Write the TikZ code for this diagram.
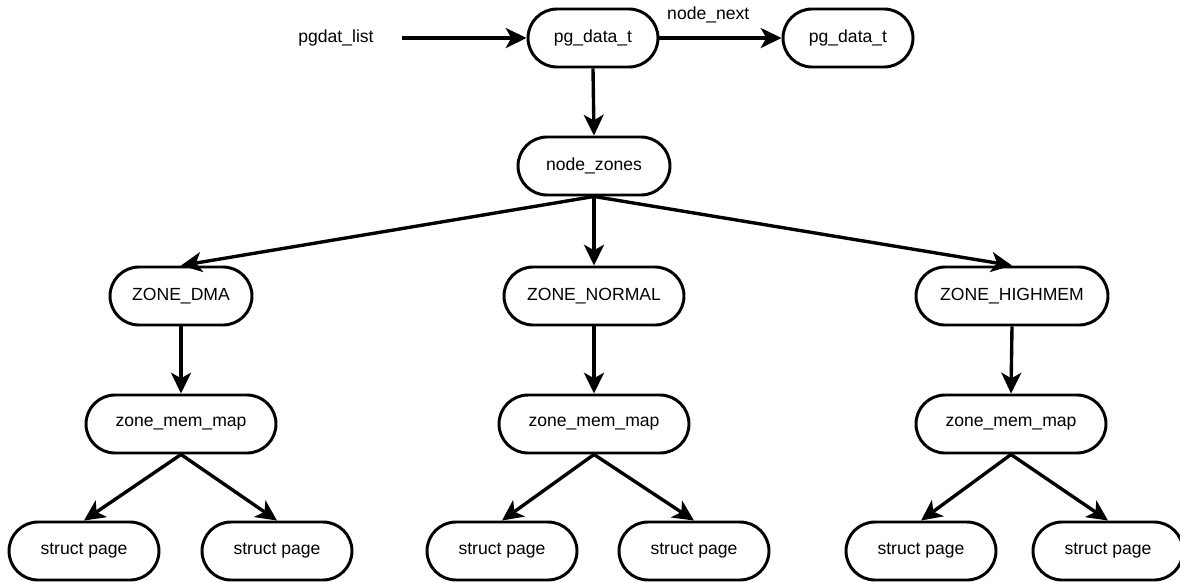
\documentclass[tikz,border=0pt]{standalone}
\usepackage{fontspec}
\setmainfont{Liberation Sans}
\usetikzlibrary{arrows.meta}
\begin{document}
\begin{tikzpicture}[x=0.025cm, y=-0.025cm,
  font=\fontsize{12.5}{15}\selectfont,
  pill/.style={draw=black, line width=2.1pt, fill=white, rectangle,
    rounded corners=0.725cm, minimum height=58*0.025cm, inner sep=0pt},
  link/.style={line width=2.4pt, -{Stealth[length=0.52cm, width=0.5cm, inset=0.14cm]}}]
  \useasboundingbox (0,0) rectangle (1180,581);

  % top row
  \node (lst) at (336,38) {pgdat\_list};
  \coordinate (lstend) at (402,38);
  \node[pill, minimum width=130*0.025cm] (pg1) at (593,38) {pg\_data\_t};
  \node[pill, minimum width=130*0.025cm] (pg2) at (848,38) {pg\_data\_t};
  \node[pill, minimum width=152*0.025cm] (zones) at (594,166) {node\_zones};

  % zones
  \node[pill, minimum width=142*0.025cm] (dma) at (181,296) {ZONE\_DMA};
  \node[pill, minimum width=180*0.025cm] (normal) at (594,296) {ZONE\_NORMAL};
  \node[pill, minimum width=192*0.025cm] (high) at (1012,296) {ZONE\_HIGHMEM};

  % memory maps
  \node[pill, minimum width=190*0.025cm] (mapa) at (181,424) {zone\_mem\_map};
  \node[pill, minimum width=190*0.025cm] (mapb) at (594,424) {zone\_mem\_map};
  \node[pill, minimum width=190*0.025cm] (mapc) at (1011,424) {zone\_mem\_map};

  % pages
  \node[pill, minimum width=150*0.025cm] (pa1) at (84,551) {struct page};
  \node[pill, minimum width=150*0.025cm] (pa2) at (277,551) {struct page};
  \node[pill, minimum width=150*0.025cm] (pb1) at (502,551) {struct page};
  \node[pill, minimum width=150*0.025cm] (pb2) at (694,551) {struct page};
  \node[pill, minimum width=150*0.025cm] (pc1) at (921,551) {struct page};
  \node[pill, minimum width=150*0.025cm] (pc2) at (1108,551) {struct page};

  % connectors
  \draw[link] (lstend) -- (pg1.west);
  \draw[link] (pg1.east) -- node[pos=0.4, yshift=0.575cm] {node\_next} (pg2.west);
  \draw[link] (pg1.south) -- (zones.north);
  \draw[link] (zones.south) -- (dma.north);
  \draw[link] (zones.south) -- (normal.north);
  \draw[link] (zones.south) -- (high.north);
  \draw[link] (dma.south) -- (mapa.north);
  \draw[link] (normal.south) -- (mapb.north);
  \draw[link] (high.south) -- (mapc.north);
  \draw[link] (mapa.south) -- (pa1.north);
  \draw[link] (mapa.south) -- (pa2.north);
  \draw[link] (mapb.south) -- (pb1.north);
  \draw[link] (mapb.south) -- (pb2.north);
  \draw[link] (mapc.south) -- (pc1.north);
  \draw[link] (mapc.south) -- (pc2.north);
\end{tikzpicture}
\end{document}
